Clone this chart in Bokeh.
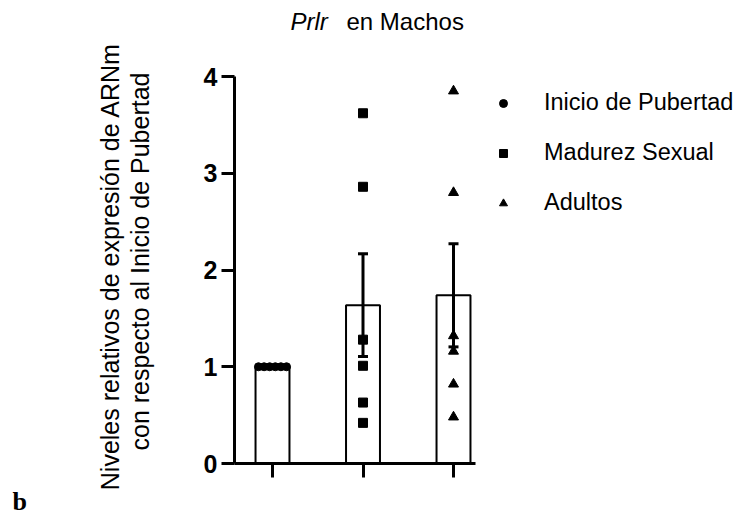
import numpy as np
from bokeh.plotting import figure
from bokeh.models import (Range1d, FixedTicker, ColumnDataSource, Whisker, TeeHead,
                          Legend, LegendItem, Label, LinearAxis)
from bokeh.embed import file_html
from bokeh.resources import INLINE

# ---------------- data ----------------
categories = ["Inicio de Pubertad", "Madurez Sexual", "Adultos"]
inicio = [1.00, 1.00, 1.00, 1.00, 1.00, 1.00]
madurez = [3.62, 2.86, 1.28, 1.01, 0.63, 0.42]
adultos = [3.85, 2.80, 1.32, 1.16, 0.82, 0.48]
y_ticks = [0, 1, 2, 3, 4]
title_gene = "Prlr"
title_rest = "en Machos"
y_label_1 = "Niveles relativos de expresión de ARNm"
y_label_2 = "con respecto al Inicio de Pubertad"
panel_letter = "b"

groups = [inicio, madurez, adultos]
positions = [1, 2, 3]
markers = ["circle", "square", "triangle"]
marker_sizes = [8, 9, 10]

means = [float(np.mean(g)) for g in groups]
sems = [float(np.std(g, ddof=1) / np.sqrt(len(g))) for g in groups]

# ---------------- layout (canvas pixels) ----------------
W, H = 740, 515
PX_CAT1 = 272.0      # first category centre
PX_PER_CAT = 90.5    # pixels per category
PX_Y0 = 463.0        # y = 0
PX_PER_Y = 96.75     # pixels per y unit
AX_LEFT_PX, AX_RIGHT_PX = 234.0, 475.0

X0 = 1 - PX_CAT1 / PX_PER_CAT
X1 = X0 + W / PX_PER_CAT
Y0 = -(H - PX_Y0) / PX_PER_Y
Y1 = PX_Y0 / PX_PER_Y


def dx(px):
    return X0 + px / PX_PER_CAT


def dy(py):
    return (PX_Y0 - py) / PX_PER_Y


FONT = "Liberation Sans"

p = figure(width=W, height=H, min_border=0,
           x_range=Range1d(X0, X1), y_range=Range1d(Y0, Y1),
           x_axis_location=None, y_axis_location=None,
           output_backend="svg", toolbar_location=None)
p.outline_line_color = None
p.grid.visible = False
p.background_fill_color = "white"
p.border_fill_color = "white"

# y axis
yax = LinearAxis(fixed_location=dx(AX_LEFT_PX), bounds=(y_ticks[0], y_ticks[-1]))
yax.ticker = FixedTicker(ticks=y_ticks)
yax.minor_tick_line_color = None
yax.major_tick_in = 0
yax.major_tick_out = 13
yax.major_tick_line_width = 3
yax.axis_line_width = 3
yax.major_label_text_font = FONT
yax.major_label_text_font_style = "bold"
yax.major_label_text_font_size = "25px"
yax.major_label_text_color = "black"
yax.major_label_standoff = 4
p.add_layout(yax, "left")

# x axis
xax = LinearAxis(fixed_location=0, bounds=(dx(AX_LEFT_PX), dx(AX_RIGHT_PX)))
xax.ticker = FixedTicker(ticks=positions)
xax.major_label_overrides = {pos: "" for pos in positions}
xax.minor_tick_line_color = None
xax.major_tick_in = 0
xax.major_tick_out = 14
xax.major_tick_line_width = 3
xax.axis_line_width = 3
p.add_layout(xax, "below")

# bars
p.vbar(x=positions, top=means, bottom=0, width=0.375,
       fill_color="white", line_color="black", line_width=2)

# points (identical values are spread side by side)
step = 0.062
renderers = []
for pos, vals, mk, sz in zip(positions, groups, markers, marker_sizes):
    counts = {}
    for v in vals:
        counts[v] = counts.get(v, 0) + 1
    seen = {}
    xs = []
    for v in vals:
        k = counts[v]
        i = seen.get(v, 0)
        seen[v] = i + 1
        xs.append(pos + (i - (k - 1) / 2) * step)
    r = p.scatter(x=xs, y=vals, marker=mk, size=sz,
                  fill_color="black", line_color="black")
    renderers.append(r)

# error bars (mean +/- SEM)
wpos = [pos for pos, s in zip(positions, sems) if s > 0]
wup = [m + s for m, s in zip(means, sems) if s > 0]
wlo = [m - s for m, s in zip(means, sems) if s > 0]
wsrc = ColumnDataSource(dict(x=wpos, upper=wup, lower=wlo))
p.add_layout(Whisker(base="x", upper="upper", lower="lower", source=wsrc,
                     level="annotation", line_width=3, line_color="black",
                     upper_head=TeeHead(size=10, line_width=3, line_color="black"),
                     lower_head=TeeHead(size=10, line_width=3, line_color="black")))

# legend
legend = Legend(items=[LegendItem(label=c, renderers=[r]) for c, r in zip(categories, renderers)],
                location=(493, H - 222.5), glyph_width=20, glyph_height=40,
                label_standoff=31, spacing=10, padding=0,
                border_line_color=None, background_fill_alpha=0,
                label_text_font=FONT, label_text_font_size="23.5px",
                label_text_color="black")
p.add_layout(legend, "center")

# title
p.add_layout(Label(x=dx(290), y=dy(21), text=title_gene, text_font=FONT,
                   text_font_style="italic", text_font_size="24px",
                   text_color="black", text_baseline="alphabetic", text_align="left"))
p.add_layout(Label(x=dx(346), y=dy(21), text=title_rest, text_font=FONT,
                   text_font_size="24px", text_color="black",
                   text_baseline="alphabetic", text_align="left"))

# y-axis label (two lines)
p.add_layout(Label(x=dx(109), y=dy(266), text=y_label_1, angle=np.pi / 2,
                   text_font=FONT, text_font_size="25px", text_color="black",
                   text_align="center", text_baseline="alphabetic"))
p.add_layout(Label(x=dx(139), y=dy(261), text=y_label_2, angle=np.pi / 2,
                   text_font=FONT, text_font_size="25px", text_color="black",
                   text_align="center", text_baseline="alphabetic"))

# panel letter
p.add_layout(Label(x=dx(12), y=dy(501), text=panel_letter,
                   text_font="Liberation Serif", text_font_style="bold",
                   text_font_size="26px", text_color="black",
                   text_align="left", text_baseline="alphabetic"))

open("out.html", "w").write(file_html(p, INLINE))
